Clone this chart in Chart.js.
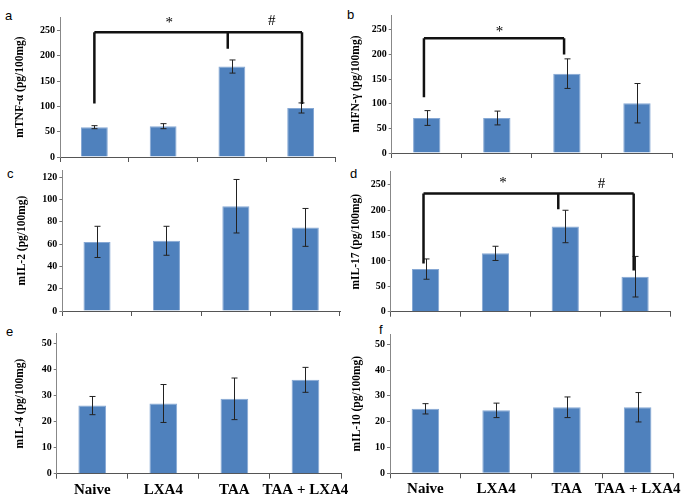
<!DOCTYPE html>
<html>
<head>
<meta charset="utf-8">
<script src="https://cdn.jsdelivr.net/npm/chart.js@4.4.1/dist/chart.umd.min.js"></script>
<style>
  html, body { margin: 0; padding: 0; background: #fff; }
  body { width: 683px; height: 494px; position: relative; overflow: hidden; }
  canvas { position: absolute; }
  .tag { position: absolute; font: 13px "Liberation Sans", Arial, sans-serif; line-height: 13px; color: #000; }
</style>
</head>
<body>
<div class="tag" style="left:5px;top:9px">a</div>
<div class="tag" style="left:347px;top:8px">b</div>
<div class="tag" style="left:7px;top:167px">c</div>
<div class="tag" style="left:350px;top:167px">d</div>
<div class="tag" style="left:6px;top:325px">e</div>
<div class="tag" style="left:379px;top:323px">f</div>

<canvas id="chartA"></canvas>
<canvas id="chartB"></canvas>
<canvas id="chartC"></canvas>
<canvas id="chartD"></canvas>
<canvas id="chartE"></canvas>
<canvas id="chartF"></canvas>

<script>
const groups = ["Naive", "LXA4", "TAA", "TAA + LXA4"];

// a - TNF-alpha
const tnfMean = [59, 61, 179, 97];
const tnfErr = [3, 5, 13, 10];
const tnfTicks = [0, 50, 100, 150, 200, 250];
// b - IFN-gamma
const ifnMean = [71, 71, 161, 101];
const ifnErr = [15, 14, 30, 40];
const ifnTicks = [0, 50, 100, 150, 200, 250];
// c - IL-2
const il2Mean = [62, 63, 94, 75];
const il2Err = [14, 13, 24, 17];
const il2Ticks = [0, 20, 40, 60, 80, 100, 120];
// d - IL-17
const il17Mean = [84, 115, 168, 69];
const il17Err = [20, 14, 32, 40];
const il17Ticks = [0, 50, 100, 150, 200, 250];
// e - IL-4
const il4Mean = [26.2, 27, 28.8, 36.1];
const il4Err = [3.5, 7.3, 8, 4.8];
const il4Ticks = [0, 10, 20, 30, 40, 50];
// f - IL-10
const il10Mean = [25, 24.4, 25.6, 25.6];
const il10Err = [2, 2.8, 4, 5.7];
const il10Ticks = [0, 10, 20, 30, 40, 50];

// significance brackets: bar height, legs [category, bottom value], marks [text, category, value]
const tnfLevel = 247;
const tnfLegs = [[0, 106], [1.94, 214], [3.02, 105]];
const tnfMarks = [["*", 1.09, 271], ["#", 2.58, 268]];
const ifnLevel = 233;
const ifnLegs = [[-0.04, 113], [1.96, 200]];
const ifnMarks = [["*", 1.04, 251]];
const il17Level = 233;
const il17Legs = [[-0.03, 95], [1.9, 202], [2.98, 81]];
const il17Marks = [["*", 1.11, 259], ["#", 2.52, 251]];

const SERIF = '"Liberation Serif", "Times New Roman", serif';

function errorBars(err) {
  return {
    id: 'errorBars',
    afterDatasetsDraw(chart) {
      const ctx = chart.ctx, y = chart.scales.y;
      const mean = chart.data.datasets[0].data;
      ctx.save();
      ctx.strokeStyle = '#222';
      ctx.lineWidth = 1;
      chart.getDatasetMeta(0).data.forEach((bar, i) => {
        const px = Math.round(bar.x) + 0.5;
        const hi = y.getPixelForValue(mean[i] + err[i]);
        const lo = y.getPixelForValue(mean[i] - err[i]);
        ctx.beginPath();
        ctx.moveTo(px, hi); ctx.lineTo(px, lo);
        ctx.moveTo(px - 3, hi); ctx.lineTo(px + 3, hi);
        ctx.moveTo(px - 3, lo); ctx.lineTo(px + 3, lo);
        ctx.stroke();
      });
      ctx.restore();
    }
  };
}

function brackets(level, legs, marks) {
  return {
    id: 'brackets',
    afterDraw(chart) {
      const ctx = chart.ctx, x = chart.scales.x, y = chart.scales.y;
      const top = y.getPixelForValue(level);
      const xs = legs.map(l => x.getPixelForValue(l[0]));
      ctx.save();
      ctx.strokeStyle = '#111';
      ctx.lineWidth = 2.5;
      ctx.beginPath();
      ctx.moveTo(Math.min(...xs), top);
      ctx.lineTo(Math.max(...xs), top);
      legs.forEach(l => {
        const px = x.getPixelForValue(l[0]);
        ctx.moveTo(px, top);
        ctx.lineTo(px, y.getPixelForValue(l[1]));
      });
      ctx.stroke();
      ctx.fillStyle = '#000';
      ctx.font = '15px ' + SERIF;
      ctx.textAlign = 'center';
      ctx.textBaseline = 'middle';
      marks.forEach(m => {
        ctx.fillText(m[0], x.getPixelForValue(m[1]), y.getPixelForValue(m[2]) + (m[0] === '*' ? 3 : 0));
      });
      ctx.restore();
    }
  };
}

function panel(id, mean, err, ticks, title, box, extra) {
  const canvas = document.getElementById(id);
  canvas.width = box.w;
  canvas.height = box.h;
  canvas.style.left = box.x + 'px';
  canvas.style.top = box.y + 'px';
  const half = (ticks[1] - ticks[0]) / 2;
  const plugins = [errorBars(err)];
  if (extra) plugins.push(extra);
  return new Chart(canvas.getContext('2d'), {
    type: 'bar',
    data: {
      labels: groups,
      datasets: [{
        data: mean,
        backgroundColor: '#4F81BD',
        borderColor: '#86A8D4',
        borderWidth: 1,
        barPercentage: 0.39,
        categoryPercentage: 1
      }]
    },
    plugins: plugins,
    options: {
      responsive: false,
      animation: false,
      layout: { padding: { left: box.padL, top: box.padT, right: box.padR, bottom: 0 } },
      plugins: { legend: { display: false }, tooltip: { enabled: false } },
      scales: {
        x: {
          grid: { display: true, drawOnChartArea: false, tickLength: 5, color: '#555', offset: true },
          border: { color: '#555' },
          ticks: {
            display: box.labels,
            color: '#000',
            padding: 2,
            maxRotation: 0,
            autoSkip: false,
            font: { family: SERIF, size: 15, weight: 'bold' }
          },
          afterFit: s => { s.height = box.xH; }
        },
        y: {
          min: 0,
          max: box.max,
          grid: { drawOnChartArea: false, tickLength: 3, color: '#777' },
          border: { color: '#888' },
          ticks: {
            color: '#000',
            padding: 2,
            font: { family: SERIF, size: 10, weight: 'bold' },
            callback: v => ticks.includes(v) ? v : ''
          },
          afterBuildTicks: s => {
            const list = [];
            ticks.forEach(t => { list.push(t); if (t + half <= box.max) list.push(t + half); });
            s.ticks = list.map(v => ({ value: v }));
          },
          afterFit: s => { s.width = box.yW; },
          title: {
            display: true,
            text: title,
            color: '#000',
            padding: 0,
            font: { family: SERIF, size: 11.5, weight: 'bold' }
          }
        }
      }
    }
  });
}

panel('chartA', tnfMean, tnfErr, tnfTicks, 'mTNF-α (pg/100mg)',
  { x: 0, y: 0, w: 339, h: 165, padL: 13.5, padT: 17, padR: 4, yW: 46.5, xH: 8, max: 277, labels: false },
  brackets(tnfLevel, tnfLegs, tnfMarks));
panel('chartB', ifnMean, ifnErr, ifnTicks, 'mIFN-γ (pg/100mg)',
  { x: 341, y: 0, w: 335, h: 161, padL: 7.8, padT: 15, padR: 4, yW: 42.9, xH: 7.7, max: 280, labels: false },
  brackets(ifnLevel, ifnLegs, ifnMarks));
panel('chartC', il2Mean, il2Err, il2Ticks, 'mIL-2 (pg/100mg)',
  { x: 0, y: 162, w: 344, h: 157, padL: 15.5, padT: 8, padR: 4, yW: 46.8, xH: 8, max: 126.5, labels: false });
panel('chartD', il17Mean, il17Err, il17Ticks, 'mIL-17 (pg/100mg)',
  { x: 341, y: 162, w: 333, h: 158, padL: 8.5, padT: 9.7, padR: 4, yW: 41.2, xH: 8.3, max: 276, labels: false },
  brackets(il17Level, il17Legs, il17Marks));
panel('chartE', il4Mean, il4Err, il4Ticks, 'mIL-4 (pg/100mg)',
  { x: 0, y: 322, w: 381, h: 172, padL: 13.5, padT: 11.3, padR: 40, yW: 43.2, xH: 20.3, max: 54, labels: true });
panel('chartF', il10Mean, il10Err, il10Ticks, 'mIL-10 (pg/100mg)',
  { x: 341, y: 322, w: 372, h: 172, padL: 9, padT: 12, padR: 40, yW: 40, xH: 20.7, max: 54, labels: true });
</script>
</body>
</html>
